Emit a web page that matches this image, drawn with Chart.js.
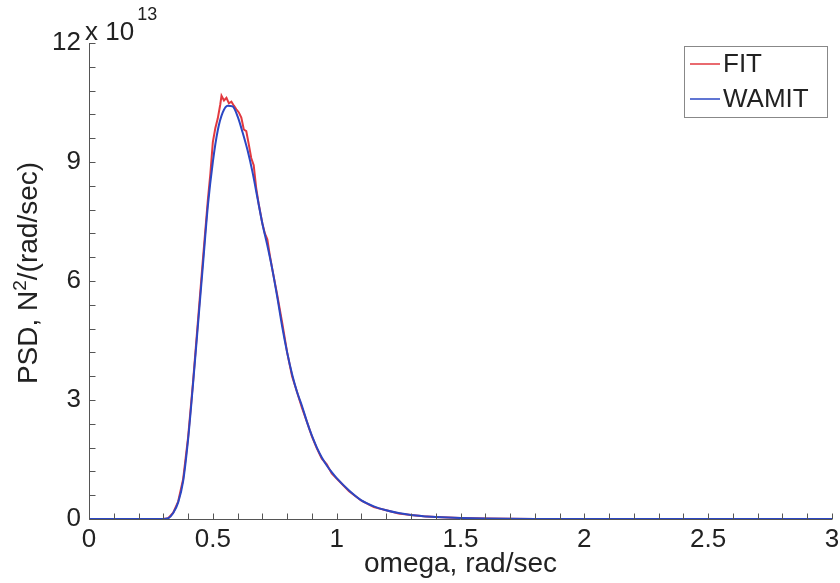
<!DOCTYPE html>
<html>
<head>
<meta charset="utf-8">
<title>PSD</title>
<script src="https://cdn.jsdelivr.net/npm/chart.js@4/dist/chart.umd.min.js"></script>
<style>
  html, body { margin: 0; padding: 0; background: #fff; }
  #wrap { width: 840px; height: 583px; }
</style>
</head>
<body>
<div id="wrap"><canvas id="psd-chart"></canvas></div>
<script>
// omega in rad/sec, PSD in units of 1e13 N^2/(rad/sec)
const omegaWamit = [0, 0.30, 0.32, 0.34, 0.36, 0.38, 0.40, 0.42, 0.44, 0.46, 0.48, 0.50, 0.52, 0.54,
  0.56, 0.58, 0.60, 0.62, 0.64, 0.66, 0.68, 0.70, 0.72, 0.74, 0.76, 0.78, 0.80, 0.82, 0.84, 0.86,
  0.88, 0.90, 0.92, 0.94, 0.96, 0.98, 1.00, 1.05, 1.10, 1.15, 1.20, 1.25, 1.30, 1.35, 1.40, 1.45,
  1.50, 1.60, 1.70, 1.80, 2.00, 3.00];
const psdWamit = [0, 0, 0.02, 0.15, 0.42, 0.95, 2.0, 3.4, 4.9, 6.4, 7.9, 9.0, 9.8, 10.25,
  10.42, 10.4, 10.15, 9.75, 9.3, 8.75, 8.1, 7.45, 6.9, 6.3, 5.6, 4.85, 4.2, 3.65, 3.2, 2.85,
  2.45, 2.1, 1.8, 1.55, 1.35, 1.18, 1.03, 0.72, 0.47, 0.32, 0.22, 0.15, 0.10, 0.07, 0.05, 0.035,
  0.025, 0.012, 0.006, 0.003, 0.001, 0];

const omegaFit = [0, 0.30, 0.32, 0.34, 0.36, 0.38, 0.40, 0.42, 0.44, 0.46, 0.48, 0.49, 0.50, 0.51,
  0.52, 0.53, 0.535, 0.545, 0.555, 0.565, 0.575, 0.585, 0.595, 0.605, 0.615, 0.625, 0.635, 0.645,
  0.655, 0.665, 0.675, 0.685, 0.70, 0.71, 0.72, 0.73, 0.74, 0.76, 0.78, 0.80, 0.82, 0.84, 0.86,
  0.88, 0.90, 0.92, 0.94, 0.96, 0.98, 1.00, 1.05, 1.10, 1.15, 1.20, 1.25, 1.30, 1.35, 1.40, 1.45,
  1.50, 1.60, 1.70, 1.80, 2.00, 3.00];
const psdFit = [0, 0, 0.02, 0.16, 0.44, 1.0, 2.05, 3.45, 5.0, 6.55, 8.05, 8.7, 9.5, 9.85,
  10.1, 10.45, 10.67, 10.55, 10.62, 10.48, 10.52, 10.42, 10.33, 10.25, 10.12, 9.82, 9.78, 9.45,
  9.1, 8.92, 8.35, 7.95, 7.45, 7.2, 7.05, 6.65, 6.3, 5.65, 4.95, 4.2, 3.6, 3.2, 2.8,
  2.45, 2.08, 1.78, 1.52, 1.38, 1.15, 1.02, 0.7, 0.46, 0.3, 0.22, 0.14, 0.1, 0.07, 0.05, 0.035,
  0.025, 0.012, 0.006, 0.003, 0.001, 0];

const xTicks = [0, 0.5, 1, 1.5, 2, 2.5, 3];
const yTicks = [0, 3, 6, 9, 12];
const yExponent = '13';

const FONT = "'Liberation Sans', Arial, Helvetica, sans-serif";
const AXIS_COLOR = '#555';
const TEXT_COLOR = '#222';

const toPoints = (xs, ys) => xs.map((x, i) => ({ x, y: ys[i] }));

// MATLAB-style axes: inward major/minor ticks, axis lines, exponent, y label and boxed legend
const matlabAxes = {
  id: 'matlabAxes',
  afterDraw(chart) {
    const { ctx, chartArea: area, scales: { x, y } } = chart;
    const tickLen = 6;
    ctx.save();
    ctx.strokeStyle = AXIS_COLOR;
    ctx.lineWidth = 1;
    ctx.beginPath();
    // axis lines
    const x0 = Math.round(area.left) + 0.5;
    const y0 = Math.round(area.bottom) + 0.5;
    ctx.moveTo(x0, area.top);
    ctx.lineTo(x0, y0);
    ctx.lineTo(area.right, y0);
    // x ticks every 0.1
    for (let i = 0; i <= 30; i++) {
      const px = Math.round(x.getPixelForValue(i / 10)) + 0.5;
      ctx.moveTo(px, y0);
      ctx.lineTo(px, y0 - tickLen);
    }
    // y ticks every 0.6
    for (let i = 0; i <= 20; i++) {
      const py = Math.round(y.getPixelForValue(i * 0.6)) + 0.5;
      ctx.moveTo(x0, py);
      ctx.lineTo(x0 + tickLen, py);
    }
    ctx.stroke();

    // exponent above the y axis
    ctx.fillStyle = TEXT_COLOR;
    ctx.textBaseline = 'alphabetic';
    ctx.textAlign = 'left';
    ctx.font = `26px ${FONT}`;
    const base = 'x 10';
    ctx.fillText(base, area.left - 4, area.top - 3);
    const w = ctx.measureText(base).width;
    ctx.font = `18px ${FONT}`;
    ctx.fillText(yExponent, area.left - 4 + w + 3, area.top - 23);

    // rotated y label with superscript
    const parts = [
      { t: 'PSD, N', size: 28, dy: 0 },
      { t: '2', size: 19, dy: -11 },
      { t: '/(rad/sec)', size: 28, dy: 0 }
    ];
    let total = 0;
    parts.forEach(p => {
      ctx.font = `${p.size}px ${FONT}`;
      p.w = ctx.measureText(p.t).width;
      total += p.w;
    });
    ctx.translate(37, 273);
    ctx.rotate(-Math.PI / 2);
    let cx = -total / 2;
    parts.forEach(p => {
      ctx.font = `${p.size}px ${FONT}`;
      ctx.fillText(p.t, cx, p.dy);
      cx += p.w;
    });
    ctx.setTransform(1, 0, 0, 1, 0, 0);

    // legend box
    const box = { left: area.right - 148, top: area.top + 3, width: 143, height: 71 };
    ctx.fillStyle = '#fff';
    ctx.fillRect(box.left, box.top, box.width, box.height);
    ctx.strokeStyle = '#888';
    ctx.strokeRect(Math.round(box.left) + 0.5, Math.round(box.top) + 0.5, box.width, box.height);
    ctx.font = `26px ${FONT}`;
    ctx.textBaseline = 'middle';
    chart.data.datasets.forEach((ds, i) => {
      const cy = box.top + 18 + i * 35;
      ctx.strokeStyle = ds.borderColor;
      ctx.lineWidth = 1.5;
      ctx.beginPath();
      ctx.moveTo(box.left + 6, cy);
      ctx.lineTo(box.left + 36, cy);
      ctx.stroke();
      ctx.fillStyle = TEXT_COLOR;
      ctx.fillText(ds.label, box.left + 39, cy + 1);
    });
    ctx.restore();
  }
};

new Chart(document.getElementById('psd-chart'), {
  type: 'line',
  data: {
    datasets: [
      {
        label: 'FIT',
        data: toPoints(omegaFit, psdFit),
        borderColor: '#e2393f',
        borderWidth: 2,
        pointRadius: 0,
        tension: 0,
        order: 1
      },
      {
        label: 'WAMIT',
        data: toPoints(omegaWamit, psdWamit),
        borderColor: '#2b47c4',
        borderWidth: 2,
        pointRadius: 0,
        cubicInterpolationMode: 'monotone',
        order: 0
      }
    ]
  },
  options: {
    responsive: true,
    maintainAspectRatio: false,
    animation: false,
    events: [],
    layout: { padding: { left: 0, right: 8, top: 43, bottom: 0 } },
    plugins: {
      legend: { display: false },
      tooltip: { enabled: false }
    },
    scales: {
      x: {
        type: 'linear',
        min: 0,
        max: 3,
        grid: { display: false },
        border: { display: false },
        afterBuildTicks: s => { s.ticks = xTicks.map(v => ({ value: v })); },
        afterFit: s => { s.height = 64; s.paddingLeft = 0; s.paddingRight = 0; },
        ticks: {
          padding: -3,
          maxRotation: 0,
          color: TEXT_COLOR,
          font: { family: FONT, size: 26 },
          callback: v => String(v)
        },
        title: {
          display: true,
          text: 'omega, rad/sec',
          color: TEXT_COLOR,
          font: { family: FONT, size: 28 },
          padding: { top: 0, bottom: 2 }
        }
      },
      y: {
        type: 'linear',
        min: 0,
        max: 12,
        grid: { display: false },
        border: { display: false },
        afterBuildTicks: s => { s.ticks = yTicks.map(v => ({ value: v })); },
        afterFit: s => { s.width = 89; s.paddingTop = 0; s.paddingBottom = 0; },
        ticks: {
          padding: 0,
          color: TEXT_COLOR,
          font: { family: FONT, size: 26 },
          callback: v => String(v)
        }
      }
    }
  },
  plugins: [matlabAxes]
});
</script>
</body>
</html>
